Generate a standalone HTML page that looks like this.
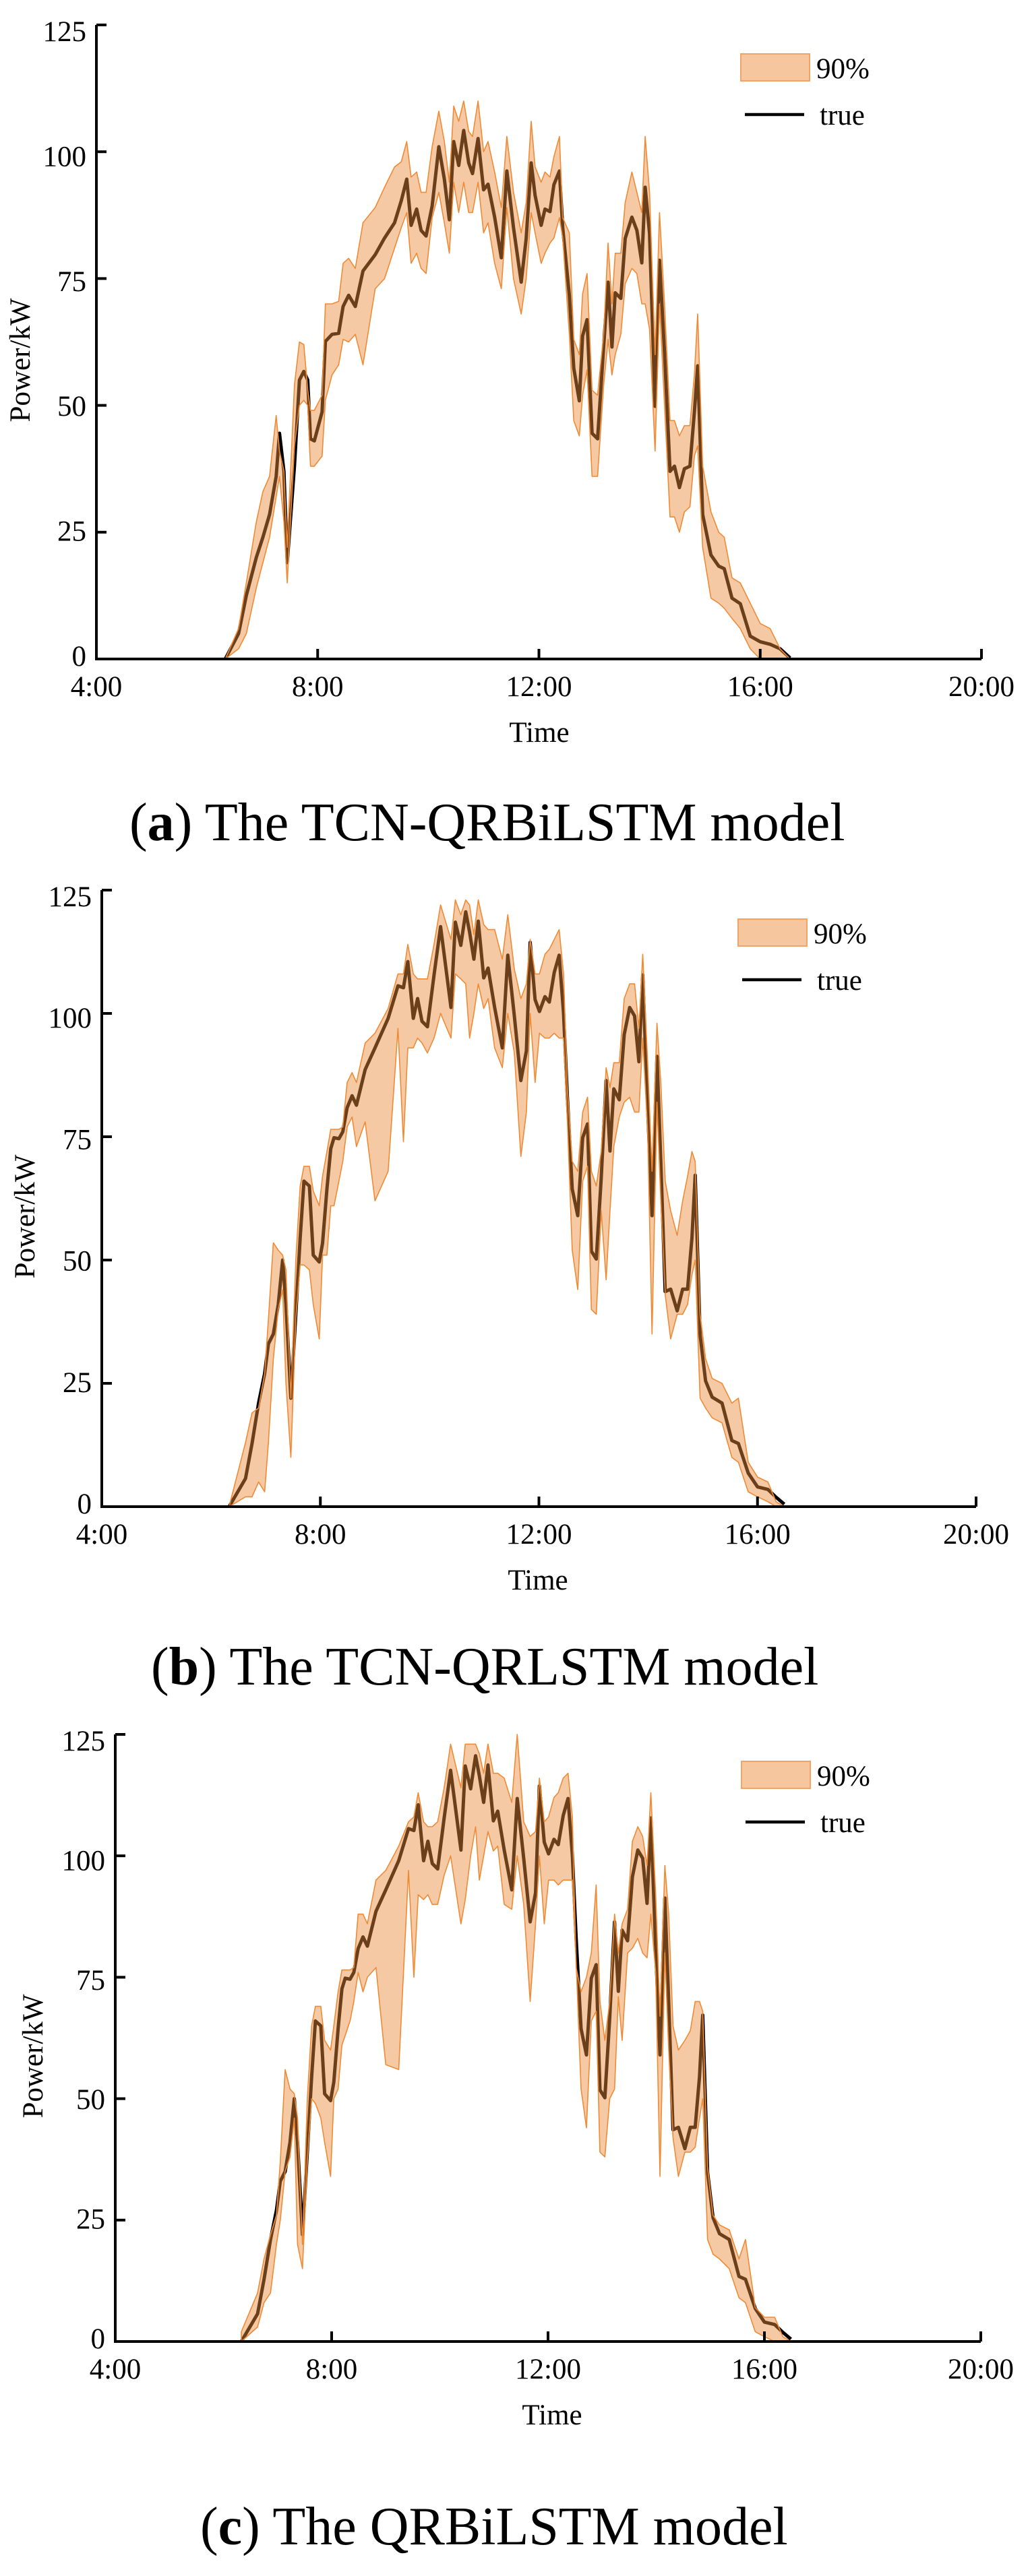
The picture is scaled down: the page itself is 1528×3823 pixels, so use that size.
<!DOCTYPE html>
<html><head><meta charset="utf-8">
<style>
html,body{margin:0;padding:0;background:#fff;}
svg{display:block;}
svg text{font-family:"Liberation Serif",serif;fill:#000;}
</style></head>
<body>
<svg id="page" width="1528" height="3823" viewBox="0 0 1528 3823" xmlns="http://www.w3.org/2000/svg" font-family="Liberation Serif, serif"></svg>
<script>
// ---------- Chart (a) TCN-QRBiLSTM ----------
const timeA = [6.33,6.57,6.71,6.89,7.01,7.13,7.25,7.31,7.39,7.45,7.58,7.67,7.75,7.82,7.87,7.94,8.08,8.14,8.26,8.38,8.46,8.56,8.68,8.82,9.04,9.21,9.39,9.51,9.61,9.69,9.79,9.87,9.96,10.07,10.19,10.29,10.38,10.46,10.55,10.64,10.73,10.80,10.90,11.0,11.08,11.2,11.32,11.42,11.54,11.68,11.77,11.86,11.93,12.04,12.11,12.2,12.27,12.37,12.43,12.55,12.63,12.73,12.79,12.87,12.96,13.06,13.17,13.25,13.32,13.38,13.48,13.56,13.68,13.77,13.86,13.92,14.0,14.1,14.18,14.27,14.37,14.45,14.54,14.63,14.73,14.81,14.87,14.96,15.11,15.25,15.35,15.49,15.64,15.82,16.0,16.18,16.36,16.54];
const trueA = [0,5,12.5,20,24,28.5,36,44.5,37,19,38,55,56.7,55,43.4,43,48.7,62.6,64,64.2,69.5,71.7,69.5,76.5,79.7,83,86,90.3,94.6,85.5,88.7,84.5,83.4,89.3,101,94.6,86.6,102,97.3,104.2,97.8,95.7,102.6,92.5,93.6,87.1,79.1,96.2,85,74.3,82.9,97.8,91.4,85.5,88.7,88.2,93.5,96.2,85,71.7,57.3,50.9,63.7,66.9,44.5,43.4,61.5,74.3,61.5,72.2,71.1,82.9,87.1,84.5,78.1,93,83.9,49.8,78.6,60.5,37,38,33.8,37.5,38,48.7,57.8,28.5,20.5,18.3,17.8,12,10.9,4.5,3.4,2.9,2,0.2];
const hiA = [0,6,15,27,33,36,48,41,37,22,54,62.5,62,53,49,49,52,70,70,70.5,78,79,77,86,89,93,97,98,102,95,96,92,92,101,108,102,94,109,106,110,104,103,110,100,102,96,89,103,92,84,90,106,97,94,96,95,99,103,87,84,63,60,72,76,53,52,64,82,70,80,80,90,96,92,88,103,92,60,88,70,47,47,44,46,46,56,68,38,29,25,24,16,15,11,7,6,2,0];
const loA = [0,2,5,14,19,24,32,36,27,15,42,50,51,50,38,38,40,51,56,58,63,62.5,64,58,73,75,81,85,88,78,80,77,76,87,92,86,80,94,88,94,88,88,94,84,86,78,73,89,75,68,75,88,84,78,80,82,83,87,83,64,47,44,52,57,36,36,54,63,56,60,64,74,77,76,70,70,65,41,70,50,28,28,25,29,30,40,42,22,12,11,10,8,6,2,0,0,0,0];

// ---------- Chart (b) TCN-QRLSTM ----------
const timeB = [6.33,6.63,6.75,6.87,6.98,7.05,7.14,7.23,7.31,7.37,7.46,7.55,7.63,7.70,7.80,7.87,7.98,8.04,8.12,8.19,8.25,8.34,8.41,8.49,8.58,8.66,8.82,9.0,9.24,9.42,9.52,9.60,9.70,9.78,9.86,9.96,10.08,10.20,10.39,10.47,10.57,10.66,10.73,10.81,10.89,10.99,11.07,11.19,11.33,11.43,11.55,11.67,11.77,11.84,11.93,12.01,12.11,12.19,12.28,12.37,12.45,12.52,12.61,12.71,12.80,12.89,12.96,13.05,13.14,13.23,13.30,13.37,13.47,13.56,13.66,13.75,13.83,13.90,13.99,14.07,14.16,14.23,14.31,14.41,14.53,14.63,14.72,14.80,14.86,14.95,15.05,15.17,15.35,15.53,15.65,15.83,16.0,16.19,16.34,16.49];
const trueB = [0,5.7,12.8,21,27,33,35,41,50,41,22,39,54.5,66,65,51,49.6,53.4,64.4,72.6,74.8,74.6,76,80.9,83.3,81.4,88.6,93,99,105.6,105.2,110.5,99,103,98.4,97.3,107.8,117.6,101.2,118.5,113.8,120.6,116.5,111,118.7,107.2,109.2,101.2,93,111.8,99.5,86.4,92.4,114.4,102.8,100.4,103.4,102.3,108.3,111.8,100.1,83,64.4,59,74.8,77.6,51.8,50.2,66.6,86.4,72.1,84.7,82.5,95.7,101.2,99.5,90.2,107.8,80.9,59,91.3,70,43.6,44.1,39.7,44.1,44.1,54.5,67.2,34.8,25.5,22.2,21,13.4,12.8,6.8,4,3.5,1.9,0.5];
const hiB = [0,13,19,20,27,38,53.5,52,51,48,22,50,65,69,69,64,61,67,72,76.5,76.5,76.5,77,86,88,86,94,96,101,108,108,114,108,107,107,107,114,122,115,123,120,123,122,116,123,118,117,117,111,120,109,103,106,115,108,108,112,113,115,117,108,85,70,68,80,83,68,65,72,89,85,90,90,103,106,106,97,112,90,68,98,86,66,60,55,62,67,72,70,39,30,26,25,21,22,9,6,5,1,0];
const loB = [0,2,2,5,3,13,30,40,44,25,10,38,49,49,48,41,34,51,51,61,61,66,70,77,79,73,78,62,68,97,74,93,93,95,94,92,95,100,95,108,107,106,95,100,106,101,103,93,89,100,92,71,80,100,86,96,95,95,96,95,95,78,52,44,66,69,40,39,60,46,60,73,79,82,83,80,80,95,76,35,82,62,43,34,39,39,41,47,50,22,20,18,17,10,9,3,2,1,0,0];

// ---------- Chart (c) QRBiLSTM ----------
const timeC = [6.33,6.63,6.75,6.87,6.98,7.05,7.14,7.23,7.31,7.37,7.46,7.55,7.63,7.70,7.80,7.87,7.98,8.04,8.12,8.19,8.25,8.34,8.41,8.49,8.58,8.66,8.82,9.0,9.24,9.42,9.52,9.60,9.70,9.78,9.86,9.96,10.08,10.20,10.39,10.47,10.57,10.66,10.73,10.81,10.89,10.99,11.07,11.19,11.33,11.43,11.55,11.67,11.77,11.84,11.93,12.01,12.11,12.19,12.28,12.37,12.45,12.52,12.61,12.71,12.80,12.89,12.96,13.05,13.14,13.23,13.30,13.37,13.47,13.56,13.66,13.75,13.83,13.90,13.99,14.07,14.16,14.23,14.31,14.41,14.53,14.63,14.72,14.80,14.86,14.95,15.05,15.17,15.35,15.53,15.65,15.83,16.0,16.19,16.34,16.49];
const trueC = [0,5.7,12.8,21,27,33,35,41,50,41,22,39,54.5,66,65,51,49.6,53.4,64.4,72.6,74.8,74.6,76,80.9,83.3,81.4,88.6,93,99,105.6,105.2,110.5,99,103,98.4,97.3,107.8,117.6,101.2,118.5,113.8,120.6,116.5,111,118.7,107.2,109.2,101.2,93,111.8,99.5,86.4,92.4,114.4,102.8,100.4,103.4,102.3,108.3,111.8,100.1,83,64.4,59,74.8,77.6,51.8,50.2,66.6,86.4,72.1,84.7,82.5,95.7,101.2,99.5,90.2,107.8,80.9,59,91.3,70,43.6,44.1,39.7,44.1,44.1,54.5,67.2,34.8,25.5,22.2,21,13.4,12.8,6.8,4,3.5,1.9,0.5];
const hiC = [2,10,17,22,26,37,56,52,51,46,20,50,65,69,69,62,60,65,72,76.5,76.5,76.5,77,88,88,86,95,97,102,107,108,113,107,106,106,107,114,123,114,123,123,123,121,117,123,117,117,116,111,125,107,104,105,116,107,108,112,113,116,117,108,77,72,75,80,94,70,62,70,88,80,86,89,103,106,104,98,113,92,67,98,88,65,60,62,64,70,70,68,36,26,24,23,17,21,7,5,5,1,0];
const loC = [0,3,8,10,20,25,35,38,46,20,15,37,50,49,46,41,34,50,52,61,63,66,70,76,72,75,77,57,56,97,75,92,91,92,90,90,96,100,86,91,100,106,95,100,105,101,102,90,89,100,90,70,86,100,86,95,95,94,95,95,95,78,52,44,66,68,39,38,50,52,71,62,80,81,83,80,79,88,76,34,80,60,42,34,39,39,40,46,50,21,18,17,15,9,8,2,1,0,0,0];

const yTickVals = [0,25,50,75,100,125];
const xTickVals = [4,8,12,16,20];
const xTickLabels = ["4:00","8:00","12:00","16:00","20:00"];
const legendLabels = ["90%","true"];

const NS = "http://www.w3.org/2000/svg";
const FONT = "Liberation Serif, serif";
const page = document.getElementById('page');
function mk(tag, attrs, parent){
  const e = document.createElementNS(NS, tag);
  for (const k in attrs) e.setAttribute(k, attrs[k]);
  if (tag === 'text') e.setAttribute('font-family', FONT);
  (parent||page).appendChild(e);
  return e;
}

function drawChart(cfg, times, tv, hi, lo){
  const g = mk('g', {});
  
  
  const xs = t => cfg.x0 + (t - 4) / 16 * (cfg.x1 - cfg.x0);
  const ys = v => cfg.y0 - v / 125 * (cfg.y0 - cfg.yTop);

  let d = '';
  for (let i = 0; i < times.length; i++) d += (i ? 'L' : 'M') + xs(times[i]).toFixed(1) + ' ' + ys(tv[i]).toFixed(1);
  const line = mk('path', {d: d, fill: 'none', stroke: '#000', 'stroke-width': 5, 'stroke-linejoin': 'round'}, g);
  
  

  let bd = '';
  for (let i = 0; i < times.length; i++) bd += (i ? 'L' : 'M') + xs(times[i]).toFixed(1) + ' ' + ys(hi[i]).toFixed(1);
  for (let i = times.length - 1; i >= 0; i--) bd += 'L' + xs(times[i]).toFixed(1) + ' ' + ys(lo[i]).toFixed(1);
  bd += 'Z';
  const band = mk('path', {d: bd, fill: 'rgb(236,138,58)', 'fill-opacity': 0.46, stroke: '#ef8a35', 'stroke-width': 1.6, 'stroke-linejoin': 'round'}, g);
  
  

  const ax = mk('path', {d: `M${cfg.x0} ${cfg.yTop}V${cfg.y0}H${cfg.x1}`, fill: 'none', stroke: '#000', 'stroke-width': 4}, g);
  
  

  yTickVals.forEach(v => {
    const y = ys(v);
    const tk = mk('line', {x1: cfg.x0, x2: cfg.x0 + 15, y1: y, y2: y, stroke: '#000', 'stroke-width': 4}, g);
    
    
    const off = 10 + 14 * v / 125;
    const tl = mk('text', {x: cfg.x0 - 15, y: y + off, 'text-anchor': 'end', 'font-size': 43}, g);
    tl.textContent = v;
    
    
  });
  xTickVals.forEach((t, i) => {
    const x = xs(t);
    const tk = mk('line', {x1: x, x2: x, y1: cfg.y0, y2: cfg.y0 - 15, stroke: '#000', 'stroke-width': 4}, g);
    
    
    const tl = mk('text', {x: x, y: cfg.y0 + 55, 'text-anchor': 'middle', 'font-size': 43}, g);
    tl.textContent = xTickLabels[i];
    
    
  });
  const xt = mk('text', {x: cfg.timeX, y: cfg.y0 + 123, 'text-anchor': 'middle', 'font-size': 43}, g);
  xt.textContent = 'Time';
  
  
  const yc = (cfg.y0 + cfg.yTop) / 2 + 27;
  const yt = mk('text', {x: 0, y: 0, 'text-anchor': 'middle', 'font-size': 43, transform: `translate(${cfg.yTitleX} ${yc}) rotate(-90)`}, g);
  yt.textContent = 'Power/kW';
  
  

  const lg = mk('g', {}, g);
  
  
  const lr = mk('rect', {x: cfg.legX, y: cfg.legY, width: 102, height: 40, fill: '#f6c79e', stroke: '#f2a466', 'stroke-width': 2}, lg);
  
  
  const l1 = mk('text', {x: cfg.legX + 112, y: cfg.legY + 36, 'font-size': 43}, lg);
  l1.textContent = legendLabels[0];
  
  
  const ll = mk('line', {x1: cfg.legX + 6, x2: cfg.legX + 94, y1: cfg.legY + 90, y2: cfg.legY + 90, stroke: '#000', 'stroke-width': 4.5}, lg);
  
  
  const l2 = mk('text', {x: cfg.legX + 117, y: cfg.legY + 105, 'font-size': 43}, lg);
  l2.textContent = legendLabels[1];
  
  

  const cap = mk('text', {x: cfg.capX, y: cfg.capY, 'font-size': 80}, g);
  
  
  const t1 = mk('tspan', {}, cap); t1.textContent = '(';
  const t2 = mk('tspan', {'font-weight': 'bold'}, cap); t2.textContent = cfg.letter;
  const t3 = mk('tspan', {}, cap); t3.textContent = ') ' + cfg.title;
}

drawChart({name:'chart-tcn-qrbilstm', x0:143, x1:1456, y0:978, yTop:37, timeX:800, yTitleX:44, legX:1099, legY:80, capX:192, capY:1247, letter:'a', title:'The TCN-QRBiLSTM model'}, timeA, trueA, hiA, loA);
drawChart({name:'chart-tcn-qrlstm', x0:151, x1:1448, y0:2236, yTop:1321, timeX:798, yTitleX:51, legX:1095, legY:1364, capX:224, capY:2500, letter:'b', title:'The TCN-QRLSTM model'}, timeB, trueB, hiB, loB);
drawChart({name:'chart-qrbilstm', x0:171, x1:1455, y0:3475, yTop:2574, timeX:819, yTitleX:63, legX:1100, legY:2614, capX:297, capY:3776, letter:'c', title:'The QRBiLSTM model'}, timeC, trueC, hiC, loC);
</script>
</body></html>
